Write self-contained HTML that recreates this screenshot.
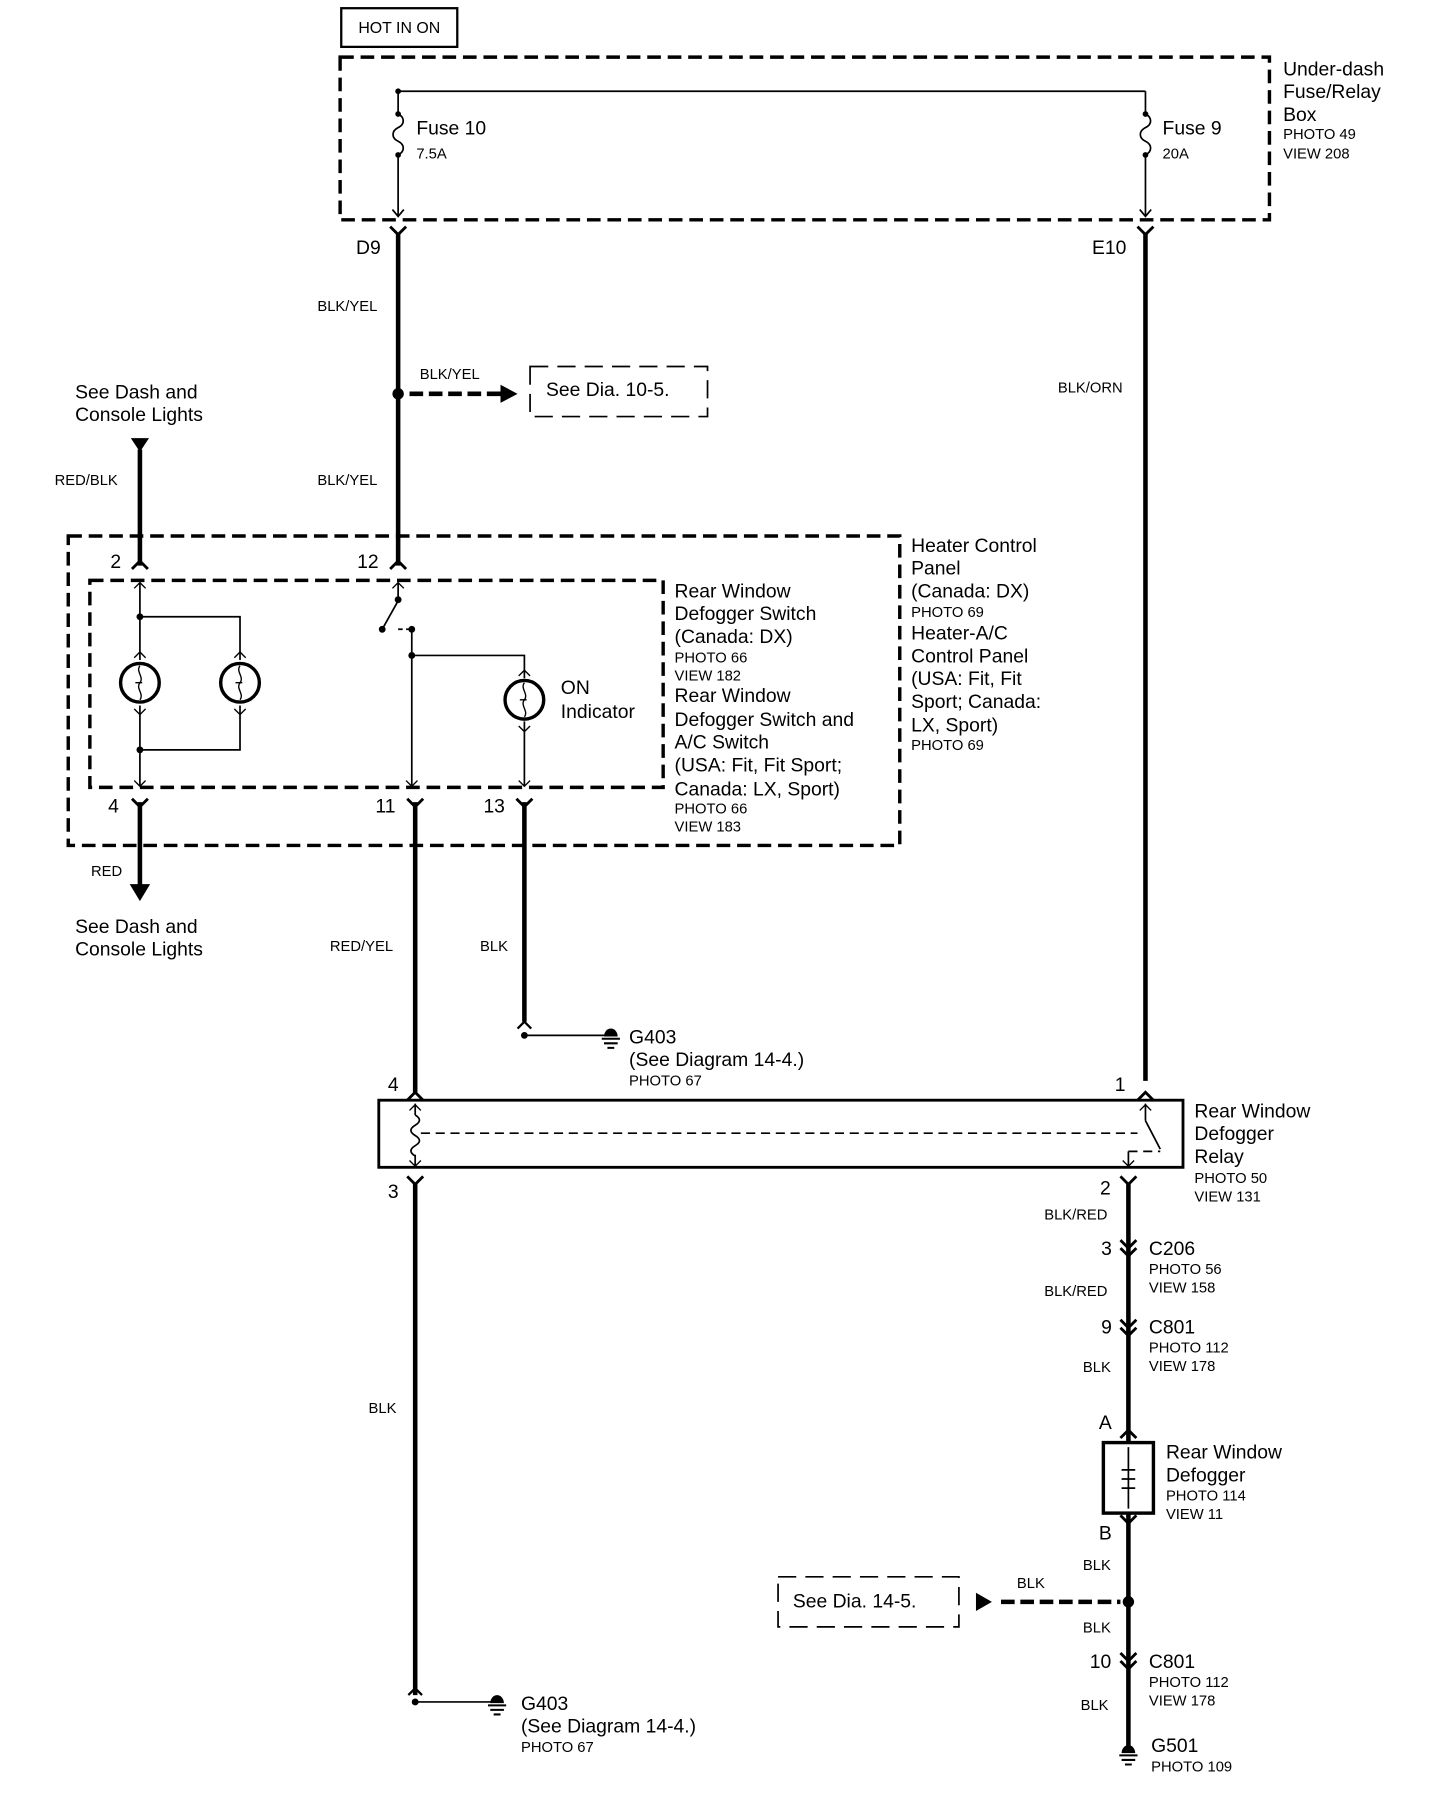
<!DOCTYPE html>
<html><head><meta charset="utf-8"><style>
html,body{margin:0;padding:0;background:#fff}
svg{display:block}
text{font-family:"Liberation Sans",sans-serif;fill:#000}
.b{font-size:17px}.s{font-size:13px}.m{font-size:14px}
</style></head><body>
<svg width="1456" height="1800" viewBox="0 0 1280 1582" xmlns="http://www.w3.org/2000/svg">
<g fill="none" stroke="#000">
<rect x="300" y="7" width="102" height="34" stroke-width="2"/>
<rect x="299" y="50" width="817" height="143" stroke-width="3" stroke-dasharray="12,6"/>
<path d="M350 80H1007M350 80V100M350 136V190M1007 80V100M1007 136V190" stroke-width="1.5"/>
<path d="M350 100c6 3 6 9 0 12c-6 3-6 9 0 12c6 3 6 9 0 12M1007 100c6 3 6 9 0 12c-6 3-6 9 0 12c6 3 6 9 0 12" stroke-width="1.5"/>
<path d="M345 184l5 6l5-6M1002 184l5 6l5-6" stroke-width="1.5"/>
<path d="M350 205V497M1007 205V950" stroke-width="4"/>
<path d="M343 199l7 7l7-7M1000 199l7 7l7-7" stroke-width="2.5"/>
<path d="M360 346H440" stroke-width="4" stroke-dasharray="12,5"/>
<rect x="466" y="322" width="156" height="44" stroke-width="1.5" stroke-dasharray="16,8"/>
<path d="M123 395V497" stroke-width="4"/>
<rect x="60" y="471" width="731" height="272" stroke-width="3" stroke-dasharray="12,6"/>
<rect x="79" y="510" width="504" height="182" stroke-width="3" stroke-dasharray="12,6"/>
<path d="M116 500l7-7l7 7M343 500l7-7l7 7" stroke-width="2.5"/>
<path d="M123 512V580M123 542H211V580M123 620V690M123 659H211V620M350 512V525M336 553L350 528M362 552V690M362 576H461V596M461 634V690" stroke-width="1.5"/>
<path d="M350 553H362" stroke-width="1.5" stroke-dasharray="4,3"/>
<circle cx="123" cy="600" r="17" stroke-width="3"/>
<circle cx="211" cy="600" r="17" stroke-width="3"/>
<circle cx="461" cy="615" r="17" stroke-width="3"/>
<path d="M123 585c-4 5 4 10 0 15c-4 5 4 10 0 15M211 585c-4 5 4 10 0 15c-4 5 4 10 0 15M461 600c-4 5 4 10 0 15c-4 5 4 10 0 15" stroke-width="1.2"/>
<path d="M119 600h6M207 600h6M457 615h6" stroke-width="1.2"/>
<path d="M118 517l5-5l5 5M118 578l5-5l5 5M206 578l5-5l5 5M118 623l5 5l5-5M206 623l5 5l5-5M118 686l5 5l5-5M345 517l5-5l5 5M357 686l5 5l5-5M456 594l5-5l5 5M456 638l5 5l5-5M456 686l5 5l5-5" stroke-width="1.2"/>
<path d="M123 705V780M365 705V960M461 705V898" stroke-width="4"/>
<path d="M116 702l7 7l7-7M358 702l7 7l7-7M454 702l7 7l7-7" stroke-width="2.5"/>
<path d="M455 904l6-6l6 6M359 1490l6-6l6 6" stroke-width="2"/>
<path d="M461 910H537M365 1496H437" stroke-width="1.5"/>
<path d="M529 913h16M531 917h12M534 921h6M429 1499h16M431 1503h12M434 1507h6" stroke-width="1.8"/>
<rect x="333" y="967" width="707" height="59" stroke-width="2.5"/>
<path d="M358 967l7-7l7 7M1000 967l7-7l7 7" stroke-width="2.5"/>
<path d="M365 970V980M365 1015V1024M1007 970V985M992 1012V1024M1007 985L1020 1010" stroke-width="1.5"/>
<path d="M365 980c5 3 5 6 0 9c-5 3-5 6 0 9c5 3 5 6 0 9c-5 3-5 6 0 9" stroke-width="1.5"/>
<path d="M370 996H1000M992 1012H1020" stroke-width="1.5" stroke-dasharray="8,5"/>
<path d="M360 976l5-5l5 5M360 1020l5 5l5-5M1002 976l5-5l5 5M987 1020l5 5l5-5" stroke-width="1.2"/>
<path d="M365 1040V1490M992 1040V1536" stroke-width="4"/>
<path d="M358 1034l7 7l7-7M985 1034l7 7l7-7" stroke-width="2.5"/>
<path d="M985 1090l7 7l7-7M985 1097l7 7l7-7M985 1160l7 7l7-7M985 1167l7 7l7-7M985 1453l7 7l7-7M985 1460l7 7l7-7M985 1264l7-7l7 7M985 1332l7 7l7-7" stroke-width="2.5"/>
<rect x="970" y="1268" width="44" height="62" stroke-width="3" fill="#fff"/>
<path d="M992 1272V1326M986 1292h12M986 1300h12M986 1308h12" stroke-width="1.5"/>
<path d="M880 1408H985" stroke-width="4" stroke-dasharray="12,5"/>
<rect x="684" y="1386" width="159" height="44" stroke-width="1.5" stroke-dasharray="16,8"/>
<path d="M984 1543h16M986 1547h12M989 1551h6" stroke-width="1.8"/>
</g>
<g fill="#000">
<circle cx="350" cy="346" r="5"/><circle cx="992" cy="1408" r="5"/>
<polygon points="440,338 455,346 440,354"/>
<polygon points="858,1400 858,1416 872,1408"/>
<polygon points="115,385 131,385 123,397"/>
<polygon points="114,777 132,777 123,792"/>
<circle cx="123" cy="542" r="3"/><circle cx="123" cy="659" r="3"/><circle cx="362" cy="576" r="3"/>
<circle cx="350" cy="527" r="3"/><circle cx="336" cy="553" r="3"/><circle cx="362" cy="553" r="3"/>
<circle cx="350" cy="80" r="2.5"/><circle cx="350" cy="100" r="2.5"/><circle cx="350" cy="136" r="2.5"/>
<circle cx="1007" cy="100" r="2.5"/><circle cx="1007" cy="136" r="2.5"/>
<circle cx="461" cy="910" r="3"/><circle cx="365" cy="1496" r="3"/>
<path d="M531 911a6 7 0 0 1 12 0z"/><path d="M431 1497a6 7 0 0 1 12 0z"/><path d="M986 1541a6 7 0 0 1 12 0z"/>
</g>
<text x="315" y="29" class="m">HOT IN ON</text>
<text x="1128" y="66" class="b">Under-dash</text><text x="1128" y="86" class="b">Fuse/Relay</text><text x="1128" y="106" class="b">Box</text>
<text x="1128" y="122" class="s">PHOTO 49</text><text x="1128" y="139" class="s">VIEW 208</text>
<text x="366" y="118" class="b">Fuse 10</text><text x="366" y="139" class="s">7.5A</text>
<text x="1022" y="118" class="b">Fuse 9</text><text x="1022" y="139" class="s">20A</text>
<text x="313" y="223" class="b">D9</text><text x="960" y="223" class="b">E10</text>
<text x="279" y="273" class="s">BLK/YEL</text><text x="369" y="333" class="s">BLK/YEL</text><text x="279" y="426" class="s">BLK/YEL</text>
<text x="480" y="348" class="b">See Dia. 10-5.</text>
<text x="930" y="345" class="s">BLK/ORN</text>
<text x="66" y="350" class="b">See Dash and</text><text x="66" y="370" class="b">Console Lights</text>
<text x="48" y="426" class="s">RED/BLK</text>
<text x="97" y="499" class="b">2</text><text x="314" y="499" class="b">12</text>
<text x="95" y="714" class="b">4</text><text x="330" y="714" class="b">11</text><text x="425" y="714" class="b">13</text>
<text x="493" y="610" class="b">ON</text><text x="493" y="631" class="b">Indicator</text>
<text x="593" y="525" class="b">Rear Window</text><text x="593" y="545" class="b">Defogger Switch</text><text x="593" y="565" class="b">(Canada: DX)</text>
<text x="593" y="582" class="s">PHOTO 66</text><text x="593" y="598" class="s">VIEW 182</text>
<text x="593" y="617" class="b">Rear Window</text><text x="593" y="638" class="b">Defogger Switch and</text><text x="593" y="658" class="b">A/C Switch</text>
<text x="593" y="678" class="b">(USA: Fit, Fit Sport;</text><text x="593" y="699" class="b">Canada: LX, Sport)</text>
<text x="593" y="715" class="s">PHOTO 66</text><text x="593" y="731" class="s">VIEW 183</text>
<text x="801" y="485" class="b">Heater Control</text><text x="801" y="505" class="b">Panel</text><text x="801" y="525" class="b">(Canada: DX)</text>
<text x="801" y="542" class="s">PHOTO 69</text>
<text x="801" y="562" class="b">Heater-A/C</text><text x="801" y="582" class="b">Control Panel</text><text x="801" y="602" class="b">(USA: Fit, Fit</text>
<text x="801" y="622" class="b">Sport; Canada:</text><text x="801" y="643" class="b">LX, Sport)</text><text x="801" y="659" class="s">PHOTO 69</text>
<text x="80" y="770" class="s">RED</text>
<text x="66" y="820" class="b">See Dash and</text><text x="66" y="840" class="b">Console Lights</text>
<text x="290" y="836" class="s">RED/YEL</text><text x="422" y="836" class="s">BLK</text>
<text x="553" y="917" class="b">G403</text><text x="553" y="937" class="b">(See Diagram 14-4.)</text><text x="553" y="954" class="s">PHOTO 67</text>
<text x="341" y="959" class="b">4</text><text x="980" y="959" class="b">1</text>
<text x="1050" y="982" class="b">Rear Window</text><text x="1050" y="1002" class="b">Defogger</text><text x="1050" y="1022" class="b">Relay</text>
<text x="1050" y="1040" class="s">PHOTO 50</text><text x="1050" y="1056" class="s">VIEW 131</text>
<text x="341" y="1053" class="b">3</text><text x="967" y="1050" class="b">2</text>
<text x="918" y="1072" class="s">BLK/RED</text>
<text x="968" y="1103" class="b">3</text><text x="1010" y="1103" class="b">C206</text>
<text x="1010" y="1120" class="s">PHOTO 56</text><text x="1010" y="1136" class="s">VIEW 158</text>
<text x="918" y="1139" class="s">BLK/RED</text>
<text x="968" y="1172" class="b">9</text><text x="1010" y="1172" class="b">C801</text>
<text x="1010" y="1189" class="s">PHOTO 112</text><text x="1010" y="1205" class="s">VIEW 178</text>
<text x="952" y="1206" class="s">BLK</text>
<text x="324" y="1242" class="s">BLK</text>
<text x="966" y="1256" class="b">A</text>
<text x="1025" y="1282" class="b">Rear Window</text><text x="1025" y="1302" class="b">Defogger</text>
<text x="1025" y="1319" class="s">PHOTO 114</text><text x="1025" y="1335" class="s">VIEW 11</text>
<text x="966" y="1353" class="b">B</text>
<text x="952" y="1380" class="s">BLK</text><text x="894" y="1396" class="s">BLK</text><text x="952" y="1435" class="s">BLK</text>
<text x="697" y="1413" class="b">See Dia. 14-5.</text>
<text x="958" y="1466" class="b">10</text><text x="1010" y="1466" class="b">C801</text>
<text x="1010" y="1483" class="s">PHOTO 112</text><text x="1010" y="1499" class="s">VIEW 178</text>
<text x="950" y="1503" class="s">BLK</text>
<text x="458" y="1503" class="b">G403</text><text x="458" y="1523" class="b">(See Diagram 14-4.)</text><text x="458" y="1540" class="s">PHOTO 67</text>
<text x="1012" y="1540" class="b">G501</text><text x="1012" y="1557" class="s">PHOTO 109</text>
</svg>
</body></html>
